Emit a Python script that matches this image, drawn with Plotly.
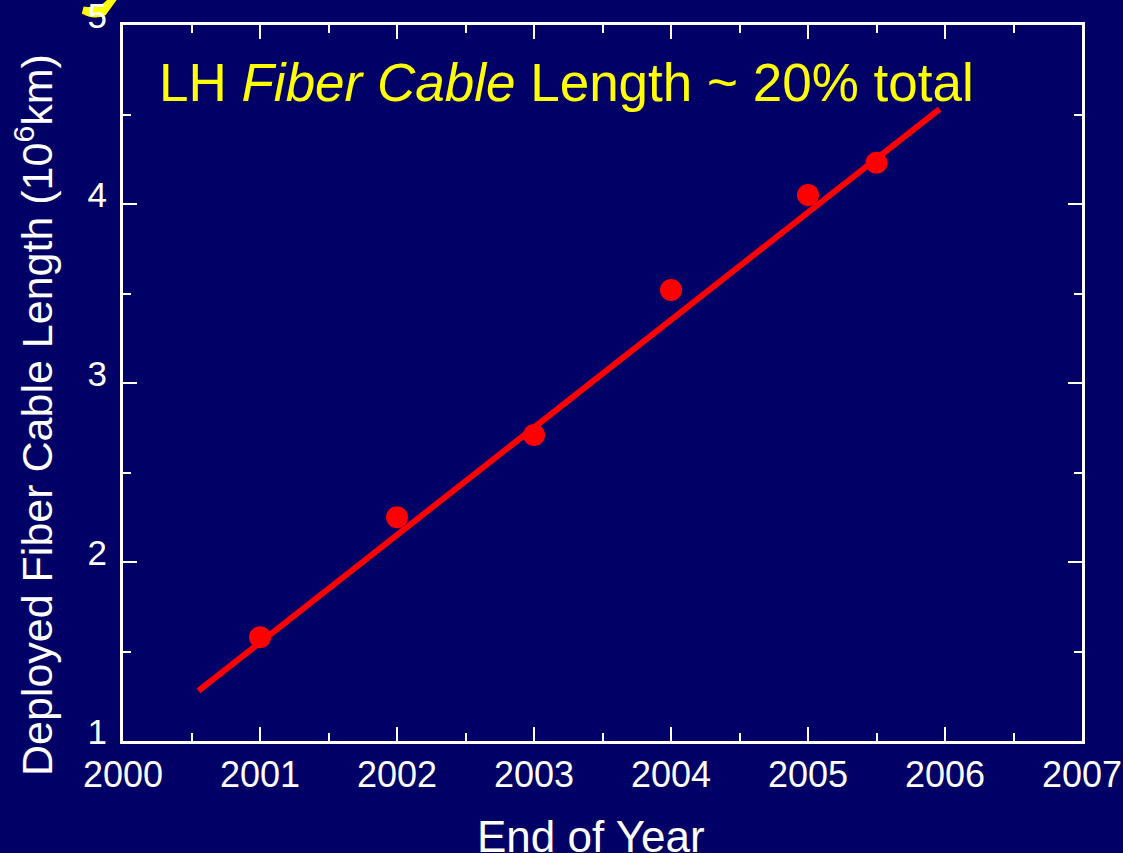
import plotly.graph_objects as go

# measured deployments (end of year) and the linear fit drawn through them
years = [2001, 2002, 2003, 2004, 2005, 2005.5]
lengths = [1.58, 2.25, 2.71, 3.52, 4.05, 4.23]
fit_years = [2000.55, 2005.96]
fit_lengths = [1.28, 4.53]

x_ticks = [2000, 2001, 2002, 2003, 2004, 2005, 2006, 2007]
y_ticks = [1, 2, 3, 4, 5]

BG = "#010066"
FONT = "Liberation Sans, Arial, sans-serif"

fig = go.Figure()

fig.add_trace(go.Scatter(
    x=fit_years, y=fit_lengths, mode="lines",
    line=dict(color="#ff0000", width=6),
    showlegend=False, hoverinfo="skip"
))
fig.add_trace(go.Scatter(
    x=years, y=lengths, mode="markers",
    marker=dict(color="#ff0000", size=22),
    showlegend=False
))

axis_common = dict(
    showgrid=False, zeroline=False, automargin=False, ticklabeloverflow="allow",
    showline=True, linecolor="white", linewidth=3, mirror="allticks",
    ticks="inside", ticklen=14, tickwidth=2, tickcolor="white",
)

fig.update_xaxes(
    range=[2000, 2007], tickvals=x_ticks,
    tickfont=dict(family=FONT, size=36, color="white"),
    minor=dict(dtick=0.5, ticks="inside", ticklen=8, tickwidth=2, tickcolor="white"),
    **axis_common
)
fig.update_yaxes(
    range=[1, 5], tickvals=y_ticks,
    tickfont=dict(family=FONT, size=35, color="white"),
    minor=dict(dtick=0.5, ticks="inside", ticklen=8, tickwidth=2, tickcolor="white"),
    ticklabelstandoff=6, ticklabelshift=-9,
    **axis_common
)

# axis titles as annotations so the margins stay fixed
fig.add_annotation(
    text="End of Year",
    xref="paper", yref="paper", x=0.4875, y=-0.1327,
    xanchor="center", yanchor="middle", showarrow=False,
    font=dict(family=FONT, size=44, color="white")
)
fig.add_annotation(
    text="Deployed Fiber Cable Length (10<sup>6</sup>km)",
    xref="paper", yref="paper", x=-0.093, y=0.455,
    xanchor="center", yanchor="middle", textangle=-90, showarrow=False,
    font=dict(family=FONT, size=43, color="white")
)

fig.add_annotation(
    text="LH <i>Fiber Cable</i> Length ~ 20% total",
    xref="paper", yref="paper", x=0.035, y=0.919,
    xanchor="left", yanchor="middle", showarrow=False,
    font=dict(family=FONT, size=53, color="#ffff00")
)

# yellow brush stroke peeking in behind the top-left tick label
fig.add_shape(
    type="path", xref="paper", yref="paper", layer="below",
    path="M -0.043 1.016 Q -0.030 1.006 -0.018 1.014 L -0.006 1.036 L -0.016 1.036 "
         "Q -0.024 1.022 -0.041 1.026 Z",
    fillcolor="#ffff00", line=dict(width=0)
)

fig.update_layout(
    width=1123, height=853,
    paper_bgcolor=BG, plot_bgcolor=BG,
    margin=dict(l=123, r=41, t=25, b=112),
    font=dict(family=FONT, color="white"),
)

fig.write_html(
    "out.html",
    config={"displayModeBar": False},
    post_script="document.body.style.margin='0';"
                "document.body.style.overflow='hidden';"
                "document.body.style.background='" + BG + "';"
)
